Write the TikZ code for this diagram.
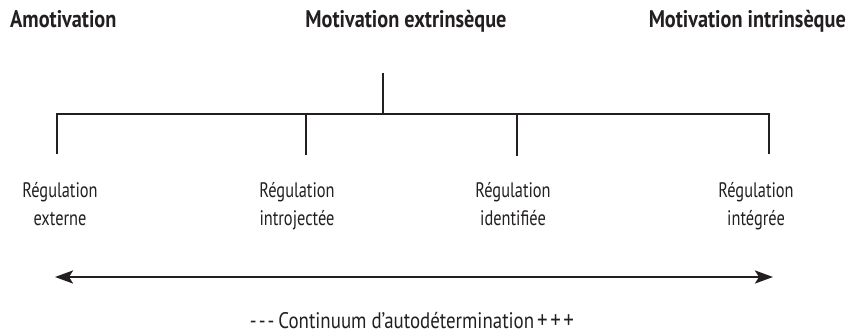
\documentclass[tikz,border=0pt]{standalone}
\usepackage{fontspec}
\setmainfont[FakeStretch=0.78]{PT Sans}
\newfontfamily\titlefont[FakeStretch=0.845]{PT Sans}
\newfontfamily\contfont[FakeStretch=0.84]{PT Sans}
\usetikzlibrary{arrows.meta}
\definecolor{ink}{HTML}{231F20}
\begin{document}
\begin{tikzpicture}[x=1pt,y=-1pt,
  title/.style={inner sep=0pt,text=ink,font=\titlefont\fontsize{24}{28}\selectfont\bfseries},
  lab/.style={inner sep=0pt,text=ink,font=\fontsize{21}{25}\selectfont},
  conttext/.style={inner sep=0pt,text depth=0pt,text=ink,font=\contfont\fontsize{22.5}{25}\selectfont},
  treeline/.style={draw=ink,line width=2.4pt},
  arrowline/.style={draw=ink,line width=2.6pt,{Stealth[length=18pt,width=13pt,inset=4pt]}-{Stealth[length=18pt,width=13pt,inset=4pt]}}]
\useasboundingbox (0,0) rectangle (861,334);
% titles
\node[title,anchor=base west] (amot) at (10,28) {Amotivation};
\node[title,anchor=base] (mext) at (406,28) {Motivation extrinsèque};
\node[title,anchor=base east] (mint) at (846,28) {Motivation intrinsèque};
% tree
\coordinate (stem) at (383,73);
\coordinate (j) at (383,114);
\coordinate (h1) at (57,114);
\coordinate (h2) at (306,114);
\coordinate (h3) at (517,114);
\coordinate (h4) at (769,114);
\coordinate (t1) at (57,154);
\coordinate (t2) at (306,155);
\coordinate (t3) at (517,156);
\coordinate (t4) at (769,154);
\draw[treeline] (stem) -- (j);
\draw[treeline,line cap=rect] (h1) -- (h4);
\draw[treeline] (h1) -- (t1);
\draw[treeline] (h2) -- (t2);
\draw[treeline] (h3) -- (t3);
\draw[treeline] (h4) -- (t4);
% labels
\node[lab,anchor=base] (r1) at (60,197) {Régulation};
\node[lab,anchor=base] (r1b) at (60,225) {externe};
\node[lab,anchor=base] (r2) at (297,197) {Régulation};
\node[lab,anchor=base] (r2b) at (297,225) {introjectée};
\node[lab,anchor=base] (r3) at (513,197) {Régulation};
\node[lab,anchor=base] (r3b) at (513,225) {identifiée};
\node[lab,anchor=base] (r4) at (756,197) {Régulation};
\node[lab,anchor=base] (r4b) at (756,225) {intégrée};
% continuum arrow
\coordinate (aL) at (55,277);
\coordinate (aR) at (773,277);
\draw[arrowline] (aL) -- (aR);
\node[conttext,anchor=base] (cont) at (412,328) {-\hspace{2pt}-\hspace{2pt}-\hspace{4pt}Continuum d’autodétermination\hspace{3pt}{\fontsize{25}{25}\selectfont+\hspace{2.5pt}+\hspace{2.5pt}+}};
\end{tikzpicture}
\end{document}
